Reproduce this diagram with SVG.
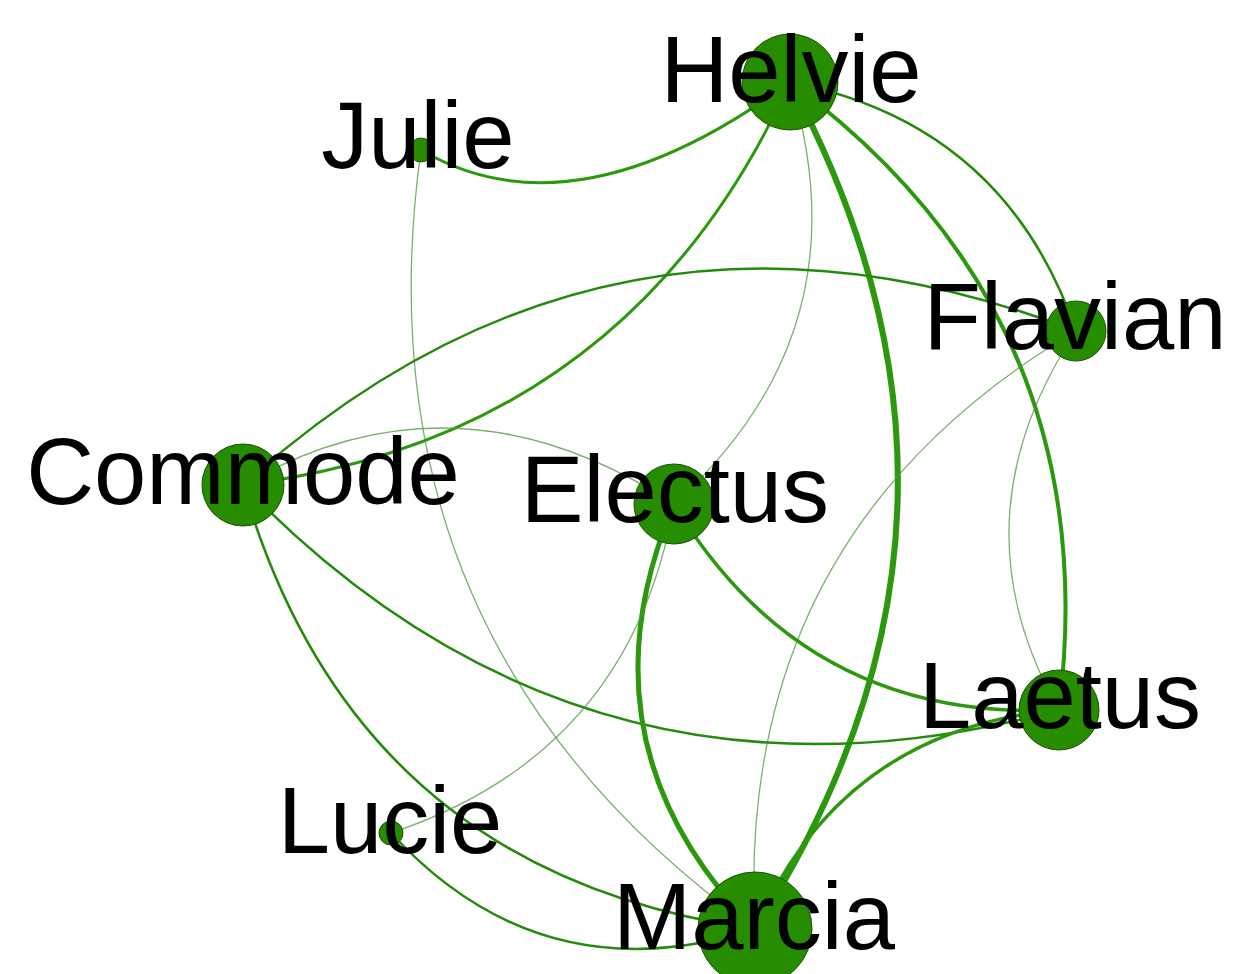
<svg xmlns="http://www.w3.org/2000/svg" width="1234" height="974" viewBox="0 0 1234 974">
<style>
.e{fill:none;stroke:#2a9010;stroke-linecap:round}
.thin{stroke-width:1.3;stroke:#4f9440;stroke-opacity:0.75}
.med{stroke-width:2.5;stroke:#238a0c}
.thk{stroke:#2c980e}
.n{fill:#268c00;stroke:#1a5200;stroke-width:1}
.t{font-family:"Liberation Sans",Arial,sans-serif;font-size:94px;fill:#000;text-anchor:middle}
</style>
<rect width="1234" height="974" fill="#fff"/>
<g id="edges">
<path class="e thk" style="stroke-width:3" d="M421,150 Q575,240 790,82"/>
<path class="e thin" d="M421,150 Q353,641 755,929"/>
<path class="e thk" style="stroke-width:3" d="M790,82 Q629,437 243,485"/>
<path class="e thin" d="M790,82 Q867,330 674,504"/>
<path class="e thk" style="stroke-width:6" d="M790,82 Q1022,516 755,929"/>
<path class="e med" d="M790,82 Q1005,124 1076,331"/>
<path class="e thk" style="stroke-width:4" d="M790,82 Q1108,317 1059,710"/>
<path class="e med" d="M1076,331 Q612,152 243,485"/>
<path class="e thin" d="M1076,331 Q734,533 755,929"/>
<path class="e thin" d="M1076,331 Q951,520 1059,710"/>
<path class="e thin" style="stroke-width:1.5" d="M243,485 Q455,362 674,504"/>
<path class="e med" d="M243,485 Q584,838 1059,710"/>
<path class="e med" d="M243,485 Q355,873 755,929"/>
<path class="e thk" style="stroke-width:3.5" d="M674,504 Q805,722 1059,710"/>
<path class="e thk" style="stroke-width:5" d="M674,504 Q573,743 755,929"/>
<path class="e thin" d="M674,504 Q631,753 391,833"/>
<path class="e med" d="M391,833 Q542,997 755,929"/>
<path class="e thk" style="stroke-width:3.5" d="M1059,710 Q842,729 755,929"/>
</g>
<g id="node-helvie"><circle class="n" cx="790" cy="82" r="48"/><text class="t" x="791" y="102">Helvie</text></g>
<g id="node-julie"><circle class="n" cx="421" cy="150" r="12"/><text class="t" x="418" y="168">Julie</text></g>
<g id="node-flavian"><circle class="n" cx="1076" cy="331" r="30"/><text class="t" x="1075" y="349">Flavian</text></g>
<g id="node-commode"><circle class="n" cx="243" cy="485" r="41"/><text class="t" x="243" y="504">Commode</text></g>
<g id="node-electus"><circle class="n" cx="674" cy="504" r="40"/><text class="t" x="675" y="522">Electus</text></g>
<g id="node-laetus"><circle class="n" cx="1059" cy="710" r="40"/><text class="t" x="1060" y="728">Laetus</text></g>
<g id="node-lucie"><circle class="n" cx="391" cy="833" r="12"/><text class="t" x="390" y="853">Lucie</text></g>
<g id="node-marcia"><circle class="n" cx="755" cy="929" r="57"/><text class="t" x="754" y="949">Marcia</text></g>
</svg>
